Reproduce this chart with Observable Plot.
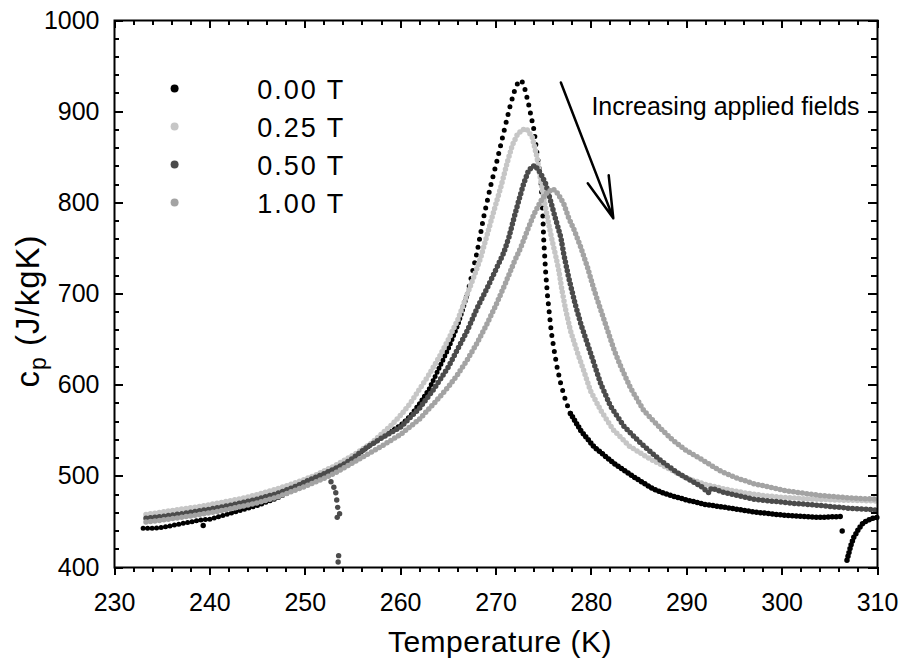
<!DOCTYPE html>
<html><head><meta charset="utf-8">
<script src="https://cdn.jsdelivr.net/npm/d3@7"></script>
<script src="https://cdn.jsdelivr.net/npm/@observablehq/plot@0.6"></script>
<style>
html,body{margin:0;padding:0;background:#fff;}
#chart{width:900px;height:659px;}
</style></head><body><div id="chart"></div>
<script>
// ---- data (temperature K, cp J/kgK) ----
const fieldLabels = ["0.00 T", "0.25 T", "0.50 T", "1.00 T"];

const s000 = [[233.0,443],[234,443],[235,444],[236,446],[237,448],[238,450],[239,452],[240,453],[241,456],[242,459],[243,462],[244,465],[245,468],[246,472],[247,476],[248,481],[249,486],[250,491],[251,496],[252,502],[253,508],[254,514],[255,521],[256,528],[257,536],[258,543],[259,550],[260,556],[261,566],[262,580],[263,596],[264,618],[265,640],[266,666],[267,700],[268,745],[268.7,784],[269.4,817],[270.1,846],[270.8,877],[271.5,907],[272.0,925],[272.4,934],[272.7,934],[273.0,926],[273.4,909],[274.0,879],[274.3,854],[274.7,826],[274.9,790],[275.0,760],[275.2,725],[275.4,698],[275.6,678],[275.8,658],[276.1,638],[276.4,620],[276.8,601],[277.3,583],[277.8,569],[278.9,550],[280.3,532],[282.4,514],[284.5,499],[286.5,486],[288,480],[290,474],[292,469],[294,466],[297,461],[300.5,457],[304,455],[306.3,456]];
const s000b = [[306.8,408],[306.9,412],[307.0,416],[307.2,424],[307.5,433],[307.8,438],[308.0,442],[308.5,449],[309,452],[309.5,454],[310,455]];
const o000 = [[239.3,446],[306.3,440]];

const s025 = [[233.3,458],[235,461],[237,464],[239,467],[241,471],[243,475],[245,480],[247,486],[249,493],[251,501],[253,511],[255,523],[257,537],[259,556],[260,567],[261,580],[262,596],[263,612],[264,630],[265,650],[266,672],[267,700],[268,728],[268.4,740],[269.1,766],[269.8,792],[270.5,817],[271.2,845],[271.7,863],[272.2,874],[272.7,880],[273.2,881],[273.8,872],[274.3,850],[274.7,824],[275.1,800],[275.5,778],[275.9,758],[276.3,740],[276.6,725],[276.9,705],[277.3,683],[277.8,660],[278.5,637],[279.2,616],[279.9,594],[281,572],[282.3,551],[284,533],[286,520],[288,509],[290,498],[292,491],[294,486],[296,482],[298,479],[300,477],[303,475],[306,474],[310,473]];

const s050 = [[233.3,454],[235,456],[237,459],[240,464],[242,468],[245,475],[247,481],[249,489],[250,494],[252,503],[253,508],[254,513],[255,520],[256.5,532],[258,542],[260,554],[262,575],[263.5,596],[265,620],[266,640],[267,660],[268,684],[269,705],[270,727],[270.8,745],[271.35,762],[271.9,784],[272.4,803],[272.9,821],[273.4,835],[273.8,840],[274.1,841],[274.7,832],[275.2,821],[275.7,803],[276.2,784],[276.8,762],[277.1,744],[277.6,719],[278.3,689],[278.9,667],[279.6,645],[280.3,623],[281,601],[282,577],[283.4,555],[285.2,536],[287.3,517],[289,504],[290,498],[291.5,489],[292.3,482],[292.6,487],[294,482],[297,475],[300.5,471],[304,468],[307,465],[310,463]];
const o050 = [[252.7,494],[253.0,488],[253.2,482],[253.3,474],[253.4,466],[253.6,459],[253.35,455],[253.5,413],[253.45,406]];

const s100 = [[233.3,450],[235,452],[237,455],[240,460],[242,464],[245,471],[247,477],[249,485],[250,489],[252,498],[253,503],[254,509],[255,515],[256.5,524],[258,533],[260,546],[262,563],[263.5,580],[265,598],[266,612],[267,628],[268,646],[269,666],[270,688],[271,712],[271.9,735],[272.6,751],[273.3,770],[274,788],[274.7,802],[275.4,812],[276,815],[276.5,810],[277.1,799],[277.6,784],[278.2,770],[278.9,751],[279.6,729],[280.3,704],[281,682],[281.7,660],[282.4,638],[283.1,620],[284.1,597],[285.5,572],[286.5,561],[287.5,550],[288.5,540],[290,528],[291.8,517],[293.5,506],[295,499],[297,492],[300.5,484],[304,479],[307.5,476],[310,475]];

const xMajor = [230, 240, 250, 260, 270, 280, 290, 300, 310];
const yMajor = [400, 500, 600, 700, 800, 900, 1000];
const noteText = "Increasing applied fields";
const arrowFrom = [276.8, 932];
const arrowTo = [282.3, 783];
const noteAt = [280.0, 905];

// ---- layout / styles / helpers ----
const W = 900, H = 659, mL = 114, mR = 23, mT = 20, mB = 92;
const colors = ["#000000", "#c6c6c6", "#4b4b4b", "#a3a3a3"];
const xMinor = d3.range(230, 311, 2).filter(v => v % 10 !== 0);
const yMinor = d3.range(400, 1001, 20).filter(v => v % 100 !== 0);
const [xMin, xMax] = [230, 310];
const [yMin, yMax] = [400, 1000];
const kx = (W - mL - mR) / (xMax - xMin);   // px per K
const ky = (H - mT - mB) / (yMax - yMin);   // px per J/kgK

const toRows = (arr, seg) => arr.map(([T, cp]) => ({T, cp, seg}));
const inRange = (arr, lo, hi) => arr.filter(([T]) => T >= lo && T <= hi);

const lineOpts = (color, w, dash) => ({x: "T", y: "cp", z: "seg", stroke: color, strokeWidth: w,
  strokeDasharray: dash, strokeLinecap: "round", strokeLinejoin: "round"});

// tick marks drawn as short rules; len in px (positive = down for x, into plot for left y)
const tickOpts = {stroke: "#000", strokeWidth: 2, shapeRendering: "crispEdges"};
const xTicks = (values, at, lenPx) => Plot.ruleX(values, {x: d => d, y1: () => at, y2: () => at - lenPx / ky, ...tickOpts});
const yTicks = (values, at, lenPx) => Plot.ruleY(values, {y: d => d, x1: () => at, x2: () => at + lenPx / kx, ...tickOpts});

const legendRows = fieldLabels.map((f, i) => ({f, color: colors[i], T: 236.3, Tt: 254.2, cp: 925.5 - i * 41.7}));

const chart = Plot.plot({
  width: W, height: H,
  marginLeft: mL, marginRight: mR, marginTop: mT, marginBottom: mB,
  x: {domain: [xMin, xMax]},
  y: {domain: [yMin, yMax]},
  style: {fontFamily: "'Liberation Sans', Arial, Helvetica, sans-serif", fontSize: "25px", color: "black", background: "white"},
  marks: [
    // data: 0.00 T
    Plot.line(toRows(inRange(s000, 0, 267), "a"), lineOpts(colors[0], 5, "0 4.5")),
    Plot.line(toRows(inRange(s000, 267, 277.8), "a"), lineOpts(colors[0], 5, "0 8")),
    Plot.line(toRows(inRange(s000, 277.8, 400), "a").concat(toRows(s000b, "b")), lineOpts(colors[0], 5.5, "0 4")),
    Plot.dot(toRows(o000, "o"), {x: "T", y: "cp", r: 2.7, fill: colors[0]}),
    // 0.25 T
    Plot.line(toRows(s025, "a"), lineOpts(colors[1], 5.5, "0 4.5")),
    // 0.50 T
    Plot.line(toRows(s050, "a"), lineOpts(colors[2], 5.5, "0 4.5")),
    Plot.dot(toRows(o050, "o"), {x: "T", y: "cp", r: 2.7, fill: colors[2]}),
    // 1.00 T
    Plot.line(toRows(s100, "a"), lineOpts(colors[3], 5.5, "0 4.5")),
    // frame
    Plot.frame({stroke: "black", strokeWidth: 2}),
    // ticks: bottom outward, others inward
    xTicks(xMajor, yMin, 8),
    xTicks(xMinor, yMin, 5),
    xTicks(xMajor, yMax, 8),
    xTicks(xMinor, yMax, 5),
    yTicks(yMajor, xMin, 9),
    yTicks(yMinor, xMin, 5),
    yTicks(yMajor, xMax, -9),
    yTicks(yMinor, xMax, -6),
    // tick labels
    Plot.axisX({anchor: "bottom", ticks: xMajor, tickSize: 0, tickPadding: 26, tickFormat: d => String(d), label: null}),
    Plot.axisY({anchor: "left", ticks: yMajor, tickSize: 0, tickPadding: 15, tickFormat: d => String(d), label: null}),
    // x title
    Plot.text(["Temperature (K)"], {frameAnchor: "bottom", dy: 75, dx: 4, lineAnchor: "middle", fontSize: 30}),
    // legend
    Plot.dot(legendRows, {x: "T", y: "cp", r: 4, fill: "color"}),
    Plot.text(legendRows, {x: "Tt", y: "cp", text: "f", textAnchor: "end", lineAnchor: "middle", dy: 2, fontSize: 27}),
    // annotation
    Plot.arrow([{x1: arrowFrom[0], y1: arrowFrom[1], x2: arrowTo[0], y2: arrowTo[1]}],
      {x1: "x1", y1: "y1", x2: "x2", y2: "y2", stroke: "black", strokeWidth: 2.5, headLength: 26, headAngle: 30}),
    Plot.text([{T: noteAt[0], cp: noteAt[1], s: noteText}], {x: "T", y: "cp", text: "s", textAnchor: "start", lineAnchor: "middle", fontSize: 25})
  ]
});

const svg = d3.select(chart);
// letter spacing tweaks
svg.selectAll("text").filter(function() { return / T$/.test(this.textContent); }).style("letter-spacing", "2px");
svg.selectAll("text").filter(function() { return this.textContent === "Temperature (K)"; }).style("letter-spacing", "0.5px");

// y-axis title with subscript
const yt = svg.append("text")
  .attr("transform", "translate(39,311) rotate(-90)")
  .attr("text-anchor", "middle")
  .attr("font-size", 33)
  .attr("fill", "black")
  .style("letter-spacing", "1px");
yt.append("tspan").text("c");
yt.append("tspan").attr("font-size", 23).attr("dy", 7).text("p");
yt.append("tspan").attr("dy", -7).text(" (J/kgK)");

document.getElementById("chart").appendChild(chart);
</script></body></html>
